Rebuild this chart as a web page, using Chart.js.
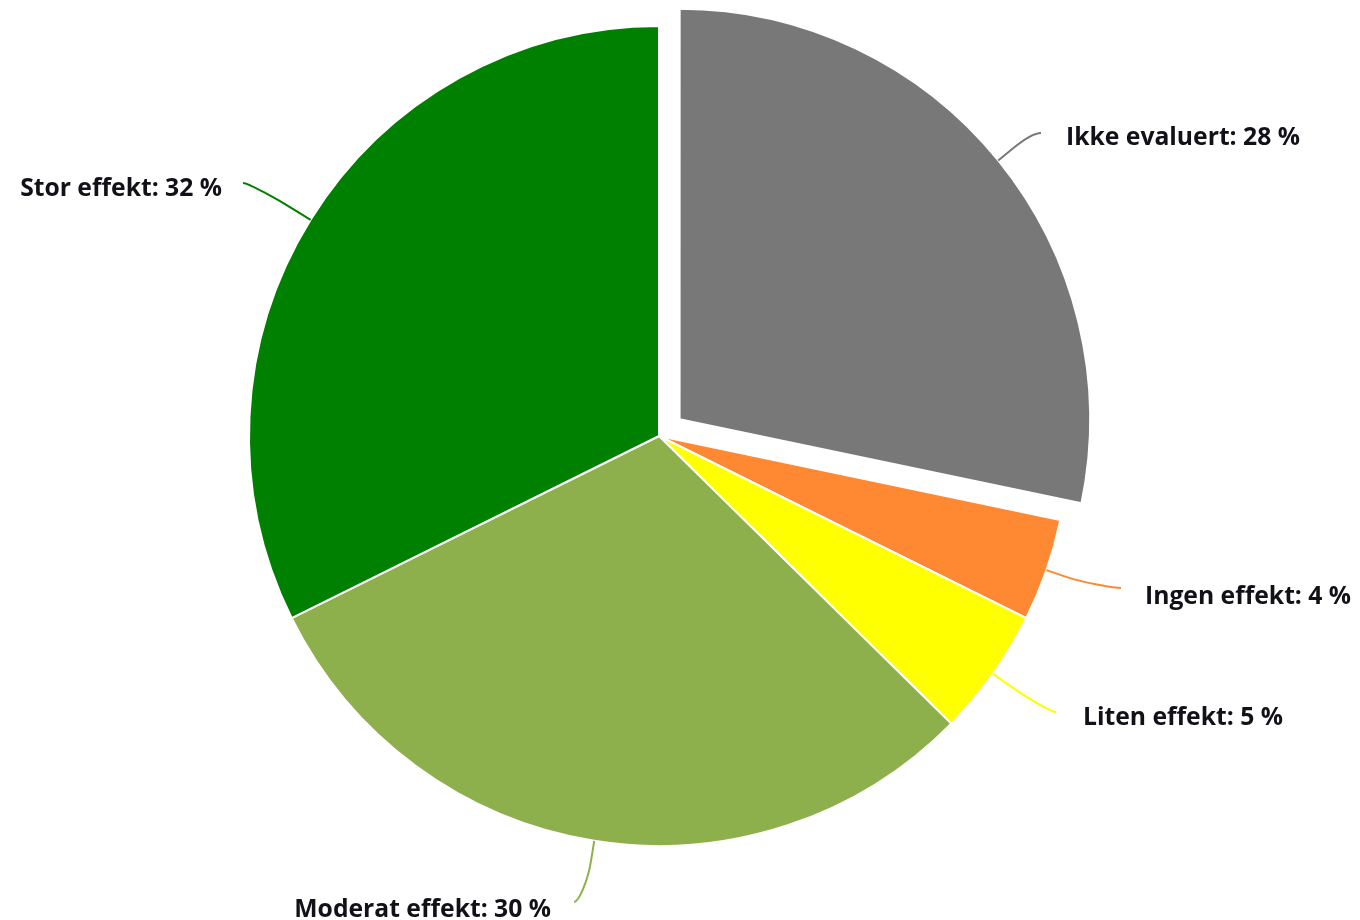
<!DOCTYPE html>
<html lang="no">
<head>
<meta charset="utf-8">
<title>Effekt</title>
<script src="https://cdn.jsdelivr.net/npm/chart.js@4"></script>
<style>
  html, body { margin: 0; padding: 0; background: #ffffff; }
  #wrap { width: 1360px; height: 920px; }
</style>
</head>
<body>
<div id="wrap"><canvas id="pie" width="1360" height="920"></canvas></div>
<script>
// Andel tiltak fordelt på vurdert effekt (prosent)
const categories = ['Ikke evaluert', 'Ingen effekt', 'Liten effekt', 'Moderat effekt', 'Stor effekt'];
const shares = [28, 4, 5, 30, 32];
const sliceColors = ['#787878', '#ff8833', '#ffff00', '#8db04c', '#008000'];
const pulledOut = [true, false, false, false, false];

// Label placement: text anchor, alignment and where the connector meets the text
const labelLayout = [
  { tx: 1066, ty: 144.5, align: 'left',  lx: 1041, ly: 133 },
  { tx: 1145, ty: 604,   align: 'left',  lx: 1121, ly: 588 },
  { tx: 1083, ty: 725,   align: 'left',  lx: 1056, ly: 712 },
  { tx: 551,  ty: 917,   align: 'right', lx: 574,  ly: 902 },
  { tx: 222,  ty: 196,   align: 'right', lx: 243,  ly: 183 }
];

const PULL = 106; // arc offset option; the element shifts by about a quarter of this

const pieLabels = {
  id: 'pieLabels',
  afterDatasetsDraw(chart) {
    const ctx = chart.ctx;
    const meta = chart.getDatasetMeta(0);
    ctx.save();
    meta.data.forEach((arc, i) => {
      const p = arc.getProps(['x', 'y', 'startAngle', 'endAngle', 'outerRadius', 'circumference'], true);
      const mid = (p.startAngle + p.endAngle) / 2;
      const off = (arc.options.offset || 0) / 4;
      const fix = 1 - Math.sin(Math.min(Math.PI, p.circumference || 0));
      const shift = off + off * fix;
      const cx = p.x + Math.cos(mid) * shift;
      const cy = p.y + Math.sin(mid) * shift;
      const r = p.outerRadius;
      const tX = cx + Math.cos(mid) * r;
      const tY = cy + Math.sin(mid) * r;
      const bX = cx + Math.cos(mid) * (r + 20);
      const bY = cy + Math.sin(mid) * (r + 20);
      const L = labelLayout[i];
      const dir = L.align === 'left' ? -5 : 5;

      ctx.beginPath();
      ctx.moveTo(L.lx, L.ly);
      ctx.bezierCurveTo(L.lx + dir, L.ly, 2 * bX - tX, 2 * bY - tY, bX, bY);
      ctx.lineTo(tX, tY);
      ctx.strokeStyle = sliceColors[i];
      ctx.lineWidth = 2;
      ctx.stroke();

      ctx.font = 'bold 24.7px "Open Sans"';
      ctx.fillStyle = '#111118';
      ctx.textAlign = L.align;
      ctx.textBaseline = 'alphabetic';
      ctx.fillText(categories[i] + ': ' + shares[i] + ' %', L.tx, L.ty);
    });
    ctx.restore();
  }
};

new Chart(document.getElementById('pie'), {
  type: 'pie',
  data: {
    labels: categories,
    datasets: [{
      data: shares,
      backgroundColor: sliceColors,
      borderColor: '#ffffff',
      borderWidth: 2,
      offset: pulledOut.map(p => p ? PULL : 0),
      hoverOffset: 0,
      radius: 410
    }]
  },
  options: {
    responsive: false,
    animation: false,
    events: [],
    layout: { padding: { left: 0, right: 42, top: 0, bottom: 48 } },
    plugins: {
      legend: { display: false },
      tooltip: { enabled: false }
    }
  },
  plugins: [pieLabels]
});
</script>
</body>
</html>
